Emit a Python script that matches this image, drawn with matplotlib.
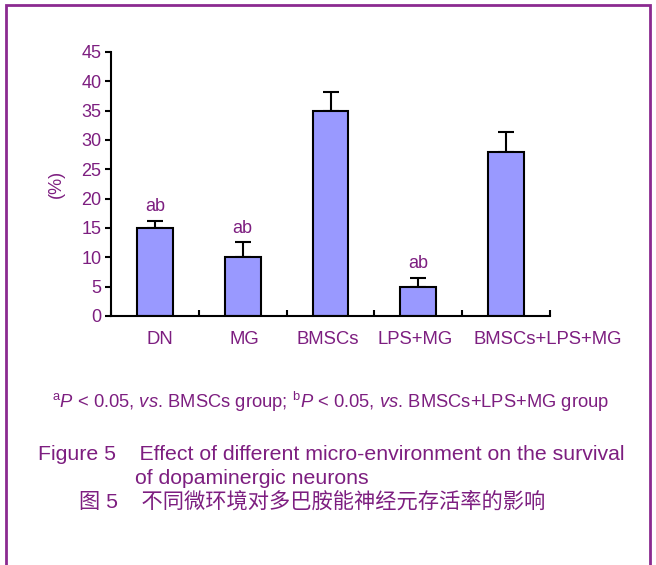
import matplotlib.pyplot as plt
import matplotlib.transforms as mtransforms
import numpy as np
from matplotlib.patches import Rectangle

plt.rcParams['font.family'] = ['Liberation Sans', 'Noto Sans CJK SC']
plt.rcParams['mathtext.fontset'] = 'custom'
plt.rcParams['mathtext.rm'] = 'Liberation Sans'
plt.rcParams['mathtext.it'] = 'Liberation Sans:italic'

groups = ['DN', 'MG', 'BMSCs', 'LPS+MG', 'BMSCs+LPS+MG']
survival = [15.0, 10.0, 35.0, 5.0, 28.0]
sd = [1.2, 2.6, 3.2, 1.5, 3.4]
marks = ['ab', 'ab', '', 'ab', '']

purple = '#7d1e80'

fig = plt.figure(figsize=(6.56, 5.65), dpi=100)
ax = fig.add_axes([111/656, 1-316/565, 439/656, 264/565])

x = np.arange(len(groups))
ax.bar(x, survival, width=0.41, color='#9999ff', edgecolor='black', linewidth=1.5, zorder=2)
ax.errorbar(x, survival, yerr=[np.zeros(len(sd)), sd], fmt='none', ecolor='black',
            elinewidth=1.5, capsize=6, capthick=1.5, zorder=1)
for xi, v, e, m in zip(x, survival, sd, marks):
    if m:
        ax.annotate(m, (xi, v+e), xytext=(0, 4), textcoords='offset points',
                    ha='center', va='bottom', color=purple, fontsize=13)

ax.set_xlim(-0.5, 4.5)
ax.set_ylim(0, 45)
ax.set_yticks(range(0, 50, 5))
ax.set_xticks(x)
ax.set_xticklabels(groups)
ax.set_xticks(np.arange(-0.5, 5, 1), minor=True)
ax.tick_params(axis='x', which='major', length=0, pad=11, labelsize=13.3, labelcolor=purple)
ax.tick_params(axis='x', which='minor', direction='in', length=4, width=1.5)
ax.tick_params(axis='y', direction='out', length=4, width=1.5, labelsize=13, labelcolor=purple, pad=3)
for s in ['top', 'right']:
    ax.spines[s].set_visible(False)
for s in ['left', 'bottom']:
    ax.spines[s].set_linewidth(1.5)
ax.set_ylabel('(%)', color=purple, fontsize=13, labelpad=12)

# labels sit a bit off their bars in the original
shifts = [0.05, 0.02, -0.03, -0.03, 0.42]
for lab, dx in zip(ax.get_xticklabels(), shifts):
    lab.set_transform(lab.get_transform() + mtransforms.ScaledTranslation(dx, 0, fig.dpi_scale_trans))

fig.text(331/656, 1-402/565, r'$^{\mathrm{a}}\mathit{P}$ < 0.05, $\mathit{vs}$. BMSCs group; $^{\mathrm{b}}\mathit{P}$ < 0.05, $\mathit{vs}$. BMSCs+LPS+MG group',
         ha='center', va='center', color=purple, fontsize=13.2)
fig.text(38/656, 1-455/565, 'Figure 5    Effect of different micro-environment on the survival',
         ha='left', va='center', color=purple, fontsize=15.3)
fig.text(135/656, 1-478/565, 'of dopaminergic neurons',
         ha='left', va='center', color=purple, fontsize=15.3)
fig.text(79/656, 1-501/565, '图 5    不同微环境对多巴胺能神经元存活率的影响',
         ha='left', va='center', color=purple, fontsize=15.3)

fig.patches.append(Rectangle((6/656, -0.02), 644/656, 1-5/565+0.02, transform=fig.transFigure,
                             fill=False, edgecolor='#8b2a90', linewidth=2))

fig.savefig('out.png', dpi=100)
